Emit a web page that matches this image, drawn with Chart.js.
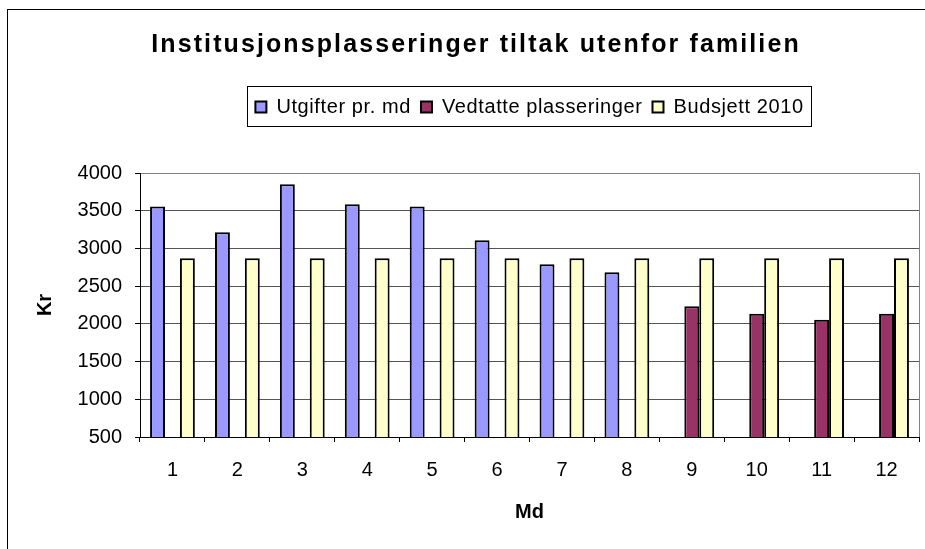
<!DOCTYPE html>
<html>
<head>
<meta charset="utf-8">
<script src="https://cdn.jsdelivr.net/npm/chart.js@4"></script>
<style>
  html, body { margin: 0; padding: 0; background: #fff; }
  #wrap { width: 925px; height: 549px; position: relative; }
</style>
</head>
<body>
<div id="wrap"><canvas id="chart" width="925" height="549"></canvas></div>
<script>
const months = ['1', '2', '3', '4', '5', '6', '7', '8', '9', '10', '11', '12'];
const utgifter = [3555, 3215, 3850, 3585, 3555, 3110, 2790, 2685, null, null, null, null];
const vedtatte = [null, null, null, null, null, null, null, null, 2235, 2135, 2055, 2135];
const budsjett = [2870, 2870, 2870, 2870, 2870, 2870, 2870, 2870, 2870, 2870, 2870, 2870];
const yTicks = [500, 1000, 1500, 2000, 2500, 3000, 3500, 4000];

const font = "'Liberation Sans', Arial, sans-serif";

// run fn with a given letter spacing on the canvas
function spaced(ctx, sp, fn) {
    const old = ctx.letterSpacing;
    ctx.letterSpacing = sp;
    const r = fn();
    ctx.letterSpacing = old || '0px';
    return r;
}

const tweaks = {
    id: 'tweaks',
    afterInit(chart) {
        const lg = chart.legend, tb = chart.titleBlock;
        const fit = lg.fit.bind(lg), draw = lg.draw.bind(lg), tdraw = tb.draw.bind(tb);
        lg.fit = function () {
            spaced(chart.ctx, '0.6px', fit);
            this.height += 46;   // space between legend and plot
        };
        lg.draw = function () { spaced(chart.ctx, '0.6px', draw); };
        tb.draw = function () { spaced(chart.ctx, '2.1px', tdraw); };
    },
    beforeDraw(chart) {
        const ctx = chart.ctx;
        ctx.save();
        ctx.fillStyle = '#fff';
        ctx.fillRect(0, 0, chart.width, chart.height);
        ctx.strokeStyle = '#000';
        ctx.lineWidth = 1;
        ctx.strokeRect(7.5, 9.5, 1000, 1000);
        ctx.restore();
    },
    afterDraw(chart) {
        const ctx = chart.ctx;
        const a = chart.chartArea;
        ctx.save();
        ctx.strokeStyle = '#808080';
        ctx.lineWidth = 1;
        ctx.beginPath();
        ctx.moveTo(Math.round(a.right) + 0.5, a.top);
        ctx.lineTo(Math.round(a.right) + 0.5, a.bottom);
        ctx.stroke();
        // legend frame
        const boxes = chart.legend.legendHitBoxes;
        if (boxes.length) {
            const first = boxes[0], last = boxes[boxes.length - 1];
            ctx.strokeStyle = '#000';
            ctx.strokeRect(Math.round(first.left) - 7.5, Math.round(first.top) - 10.5,
                Math.round(last.left + last.width - first.left) + 16, 40);
        }
        ctx.restore();
    }
};

new Chart(document.getElementById('chart'), {
    type: 'bar',
    data: {
        labels: months,
        datasets: [
            { label: 'Utgifter pr. md', data: utgifter, backgroundColor: '#9999FF' },
            { label: 'Vedtatte plasseringer', data: vedtatte, backgroundColor: '#993366' },
            { label: 'Budsjett 2010', data: budsjett, backgroundColor: '#FFFFCC' }
        ]
    },
    options: {
        responsive: false,
        animation: false,
        devicePixelRatio: 1,
        layout: { padding: { left: 33, right: 6, top: 0, bottom: 25 } },
        datasets: {
            bar: {
                borderColor: '#000',
                borderWidth: 2,
                categoryPercentage: 0.69,
                barPercentage: 1
            }
        },
        plugins: {
            title: {
                display: true,
                text: 'Institusjonsplasseringer tiltak utenfor familien',
                color: '#000',
                font: { family: font, size: 25, weight: 'bold' },
                padding: { top: 30, bottom: 27 }
            },
            legend: {
                display: true,
                fullSize: false,
                labels: {
                    color: '#000',
                    font: { family: font, size: 20 },
                    boxWidth: 11,
                    boxHeight: 11,
                    padding: 10,
                    useBorderRadius: false
                }
            },
            tooltip: { enabled: false }
        },
        scales: {
            x: {
                grid: {
                    drawOnChartArea: false,
                    drawTicks: true,
                    tickLength: 5,
                    color: '#000',
                    offset: true
                },
                border: { color: '#000', width: 1 },
                ticks: { color: '#000', font: { family: font, size: 20 }, padding: 16 },
                title: {
                    display: true,
                    text: 'Md',
                    color: '#000',
                    font: { family: font, size: 20, weight: 'bold' },
                    padding: { top: 2, bottom: 0 }
                }
            },
            y: {
                min: 500,
                max: 4000,
                afterBuildTicks(scale) {
                    scale.ticks = yTicks.map(v => ({ value: v }));
                },
                afterFit(scale) {
                    scale.width = 107;
                },
                grid: {
                    color: ctx => ctx.tick && ctx.tick.value === 4000 ? '#808080' : '#555',
                    tickColor: '#000',
                    tickLength: 5,
                    lineWidth: 1
                },
                border: { color: '#000', width: 1 },
                ticks: {
                    color: '#000',
                    font: { family: font, size: 20 },
                    padding: 13,
                    callback: v => String(v)
                },
                title: {
                    display: true,
                    text: 'Kr',
                    color: '#000',
                    font: { family: font, size: 20, weight: 'bold' },
                    padding: { top: 0, bottom: 0 }
                }
            }
        }
    },
    plugins: [tweaks]
});
</script>
</body>
</html>
